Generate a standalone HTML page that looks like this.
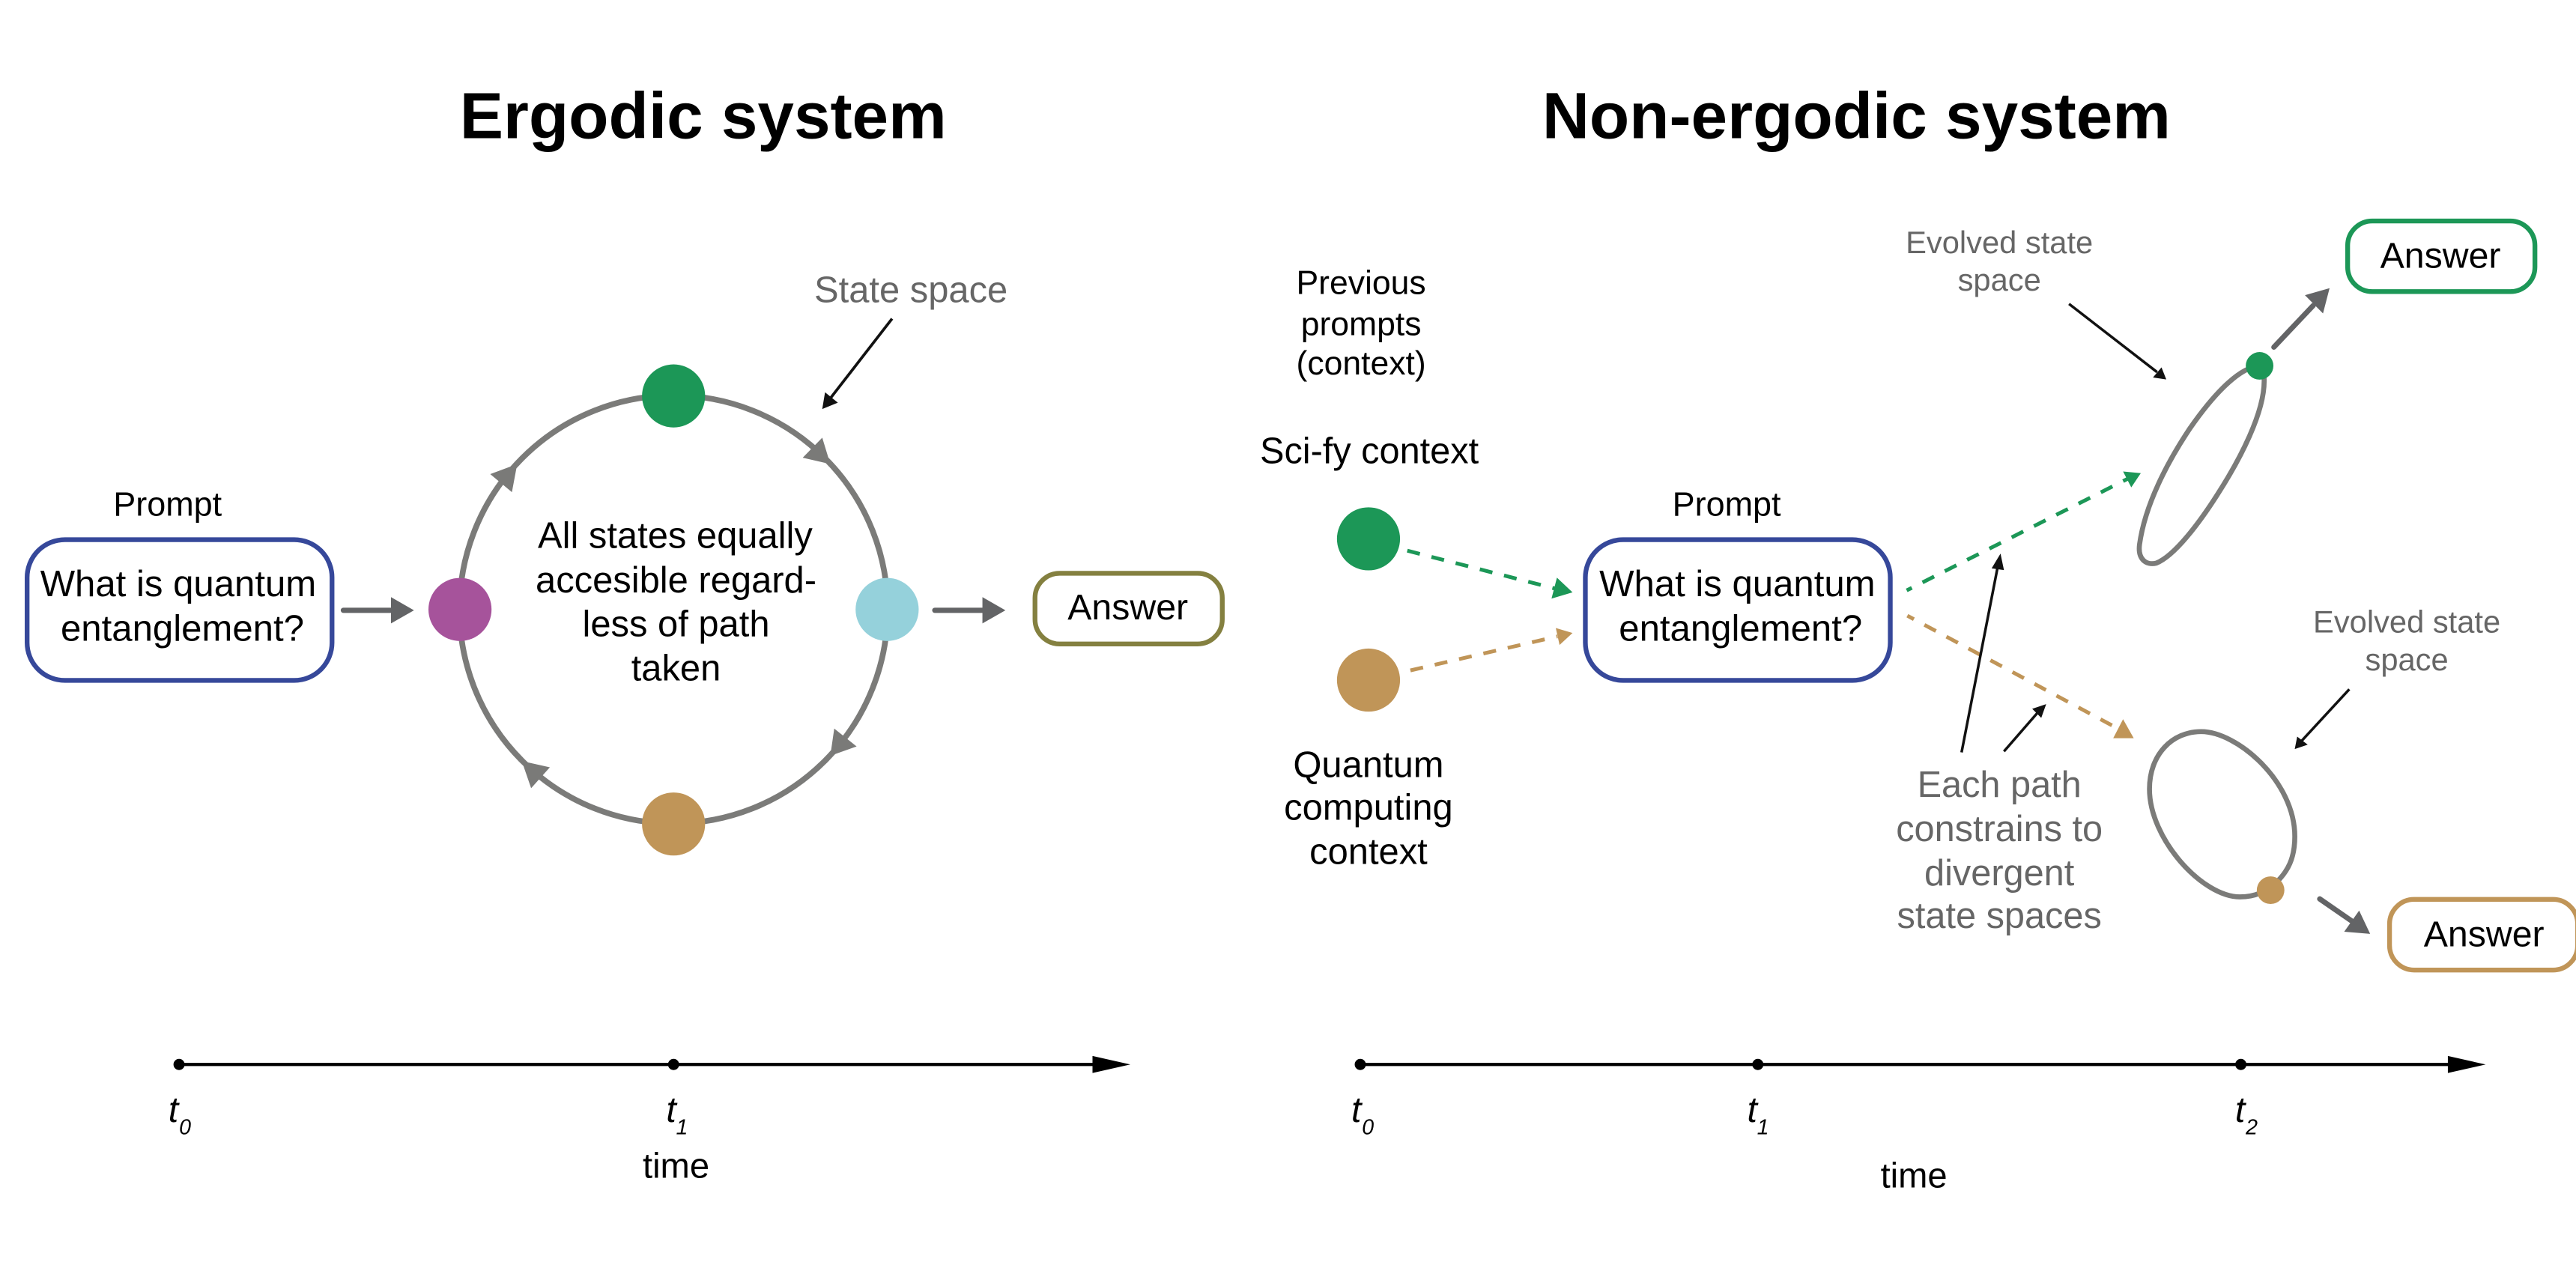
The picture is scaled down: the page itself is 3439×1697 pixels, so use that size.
<!DOCTYPE html>
<html><head><meta charset="utf-8"><style>
html,body{margin:0;padding:0;background:#fff}
svg{display:block}
text{font-family:"Liberation Sans",sans-serif;fill:#000;text-anchor:middle}
.g{fill:#666}
.i{font-style:italic;text-anchor:start}
.b{fill:#fff;stroke-width:2.9}
</style></head><body>
<svg width="3439" height="1697" viewBox="0 0 1568 773.7" xmlns="http://www.w3.org/2000/svg">
<rect width="1568" height="774" fill="#fff"/>
<text x="428" y="84" font-size="39.8" font-weight="700">Ergodic system</text>
<text x="1130" y="84" font-size="39.8" font-weight="700">Non-ergodic system</text>

<!-- left cycle -->
<circle cx="410" cy="371" r="130.3" fill="none" stroke="#7b7b79" stroke-width="3.5"/>
<g fill="#7a7a78">
<polygon points="505.4,282.5 500.5,266.4 488.6,278.6"/>
<polygon points="505.4,460.1 507.8,443.5 521.4,454.4"/>
<polygon points="317.6,463.3 334.7,467.1 323.3,479.8"/>
<polygon points="314.8,282.5 298.4,288.6 311.6,299.6"/>
</g>
<circle cx="410" cy="241" r="19.2" fill="#1c9757"/>
<circle cx="410" cy="501.6" r="19.2" fill="#c09558"/>
<circle cx="280" cy="371" r="19.2" fill="#a6539b"/>
<circle cx="540" cy="371" r="19.2" fill="#95d1db"/>
<text x="554.5" y="184" font-size="22.3" class="g">State space</text>
<line x1="543" y1="194" x2="505" y2="243" stroke="#111" stroke-width="1.7"/>
<polygon points="500.5,249 502.2,238.8 510,245.1" fill="#111"/>
<text x="102" y="314" font-size="20.5">Prompt</text>
<rect x="16.5" y="328.5" width="185.6" height="85.7" rx="23" class="b" stroke="#36489a"/>
<text x="108.5" y="363" font-size="22.4">What is quantum</text>
<text x="111" y="390" font-size="22.4">entanglement?</text>
<text x="411" y="333.6" font-size="22.3">All states equally</text>
<text x="411.5" y="360.6" font-size="22.3">accesible regard-</text>
<text x="411.5" y="387.2" font-size="22.3">less of path</text>
<text x="411.5" y="414.2" font-size="22.3">taken</text>
<rect x="630" y="349" width="114" height="43" rx="15" class="b" stroke="#848040"/>
<text x="686.5" y="377" font-size="22">Answer</text>
<g stroke="#636466" stroke-width="3.2" stroke-linecap="round"><line x1="209" y1="371.5" x2="240" y2="371.5"/><line x1="569" y1="371.5" x2="600" y2="371.5"/></g>
<g fill="#636466"><polygon points="252,371.5 238,363.5 238,379.5"/><polygon points="612,371.5 598,363.5 598,379.5"/></g>

<!-- left timeline -->
<line x1="109" y1="648" x2="670" y2="648" stroke="#000" stroke-width="1.9"/>
<polygon points="688,648 665,642.8 665,653.2" fill="#000"/>
<circle cx="109" cy="648" r="3.4"/><circle cx="410" cy="648" r="3.4"/>
<text x="102.5" y="683" font-size="22" class="i">t</text><text x="109" y="690.5" font-size="13" class="i">0</text>
<text x="405.5" y="683" font-size="22" class="i">t</text><text x="411.5" y="690.5" font-size="13" class="i">1</text>
<text x="411.5" y="717" font-size="21.5">time</text>

<!-- right context -->
<text x="828.5" y="179" font-size="20.3">Previous</text>
<text x="828.5" y="204" font-size="20.3">prompts</text>
<text x="828.5" y="228" font-size="20.3">(context)</text>
<text x="833.5" y="282" font-size="22.2">Sci-fy context</text>
<circle cx="833" cy="328" r="19.2" fill="#1c9757"/>
<circle cx="833" cy="414" r="19.2" fill="#c09558"/>
<text x="833" y="473" font-size="22.3">Quantum</text>
<text x="833" y="499" font-size="22.3">computing</text>
<text x="833" y="526" font-size="22.3">context</text>
<line x1="856.6" y1="335.2" x2="947" y2="358.4" stroke="#1c9757" stroke-width="2.3" stroke-dasharray="7.9 7.3"/>
<polygon points="957.2,360.6 947.7,351.6 944.4,364.4" fill="#1c9757"/>
<line x1="858.5" y1="408.1" x2="948" y2="387.4" stroke="#c09558" stroke-width="2.3" stroke-dasharray="7.9 7.3"/>
<polygon points="957.2,385.3 947,382.3 949.3,392.6" fill="#c09558"/>

<text x="1051" y="314" font-size="20.5">Prompt</text>
<rect x="965" y="328.5" width="185.6" height="85.7" rx="23" class="b" stroke="#36489a"/>
<text x="1057.5" y="363" font-size="22.4">What is quantum</text>
<text x="1059.5" y="390" font-size="22.4">entanglement?</text>

<!-- dashed paths -->
<line x1="1160.6" y1="359.4" x2="1295" y2="291.5" stroke="#1c9757" stroke-width="2.3" stroke-dasharray="7.9 7.3" stroke-dashoffset="4.4"/>
<polygon points="1303.1,288 1292.3,287 1297.3,296.7" fill="#1c9757"/>
<line x1="1161" y1="374.8" x2="1291" y2="444.5" stroke="#c09558" stroke-width="2.3" stroke-dasharray="7.9 7.3" stroke-dashoffset="3.4"/>
<polygon points="1298.8,449.4 1292.3,437.8 1286.3,449.4" fill="#c09558"/>

<!-- state spaces -->
<g transform="translate(1276.8,173.3) scale(0.152)">
<path d="M650 325 C560 330 450 460 370 575 C280 710 190 880 168 1040 C160 1100 195 1125 235 1115 C310 1085 410 950 480 840 C570 700 670 510 667 380 C667 350 660 325 650 325 Z" fill="none" stroke="#7b7b79" stroke-width="20"/>
</g>
<g transform="translate(1295,433.2) scale(0.152)">
<path d="M295 80 C440 80 670 280 670 500 C670 590 640 640 600 680 C560 720 510 742 450 742 C300 742 88 510 88 310 C88 170 180 80 295 80 Z" fill="none" stroke="#7b7b79" stroke-width="20"/>
</g>
<circle cx="1375.4" cy="222.7" r="8.4" fill="#1c9757"/>
<circle cx="1382.1" cy="541.9" r="8.4" fill="#c09558"/>

<!-- grey out arrows -->
<line x1="1384.1" y1="211.3" x2="1408" y2="186" stroke="#636466" stroke-width="3.2" stroke-linecap="round"/>
<polygon points="1418,175.4 1403,179.7 1414,190.8" fill="#636466"/>
<line x1="1412" y1="547.2" x2="1432" y2="561" stroke="#636466" stroke-width="3.2" stroke-linecap="round"/>
<polygon points="1442.7,568.5 1436,554.3 1426.9,567.2" fill="#636466"/>

<!-- black annotation arrows -->
<g stroke="#111" stroke-width="1.6">
<line x1="1194" y1="458" x2="1216" y2="345"/>
<line x1="1219.8" y1="457.4" x2="1241" y2="433"/>
<line x1="1259.4" y1="185" x2="1313" y2="226.5"/>
<line x1="1430" y1="419.6" x2="1401" y2="451"/>
</g>
<g fill="#111">
<polygon points="1217.7,337 1212.3,346 1219.8,347"/>
<polygon points="1245.5,428.6 1237,431.5 1242.5,437"/>
<polygon points="1318.6,231 1315.7,223.6 1310.5,229.8"/>
<polygon points="1396.8,456 1398.3,448.4 1404.7,453.3"/>
</g>

<text x="1217" y="154" font-size="19" class="g">Evolved state</text>
<text x="1217" y="177" font-size="19" class="g">space</text>
<text x="1465" y="385" font-size="19" class="g">Evolved state</text>
<text x="1465" y="408" font-size="19" class="g">space</text>
<text x="1217" y="485" font-size="22.2" class="g">Each path</text>
<text x="1217" y="512" font-size="22.2" class="g">constrains to</text>
<text x="1217" y="539" font-size="22.2" class="g">divergent</text>
<text x="1217" y="565" font-size="22.2" class="g">state spaces</text>

<rect x="1429" y="134.5" width="114" height="43" rx="15" class="b" stroke="#1c9757"/>
<text x="1485.5" y="163" font-size="22">Answer</text>
<rect x="1454.5" y="547.5" width="114.5" height="43" rx="15" class="b" stroke="#c09558"/>
<text x="1512" y="576" font-size="22">Answer</text>

<!-- right timeline -->
<line x1="828" y1="648" x2="1495" y2="648" stroke="#000" stroke-width="1.9"/>
<polygon points="1513,648 1490,642.8 1490,653.2" fill="#000"/>
<circle cx="828" cy="648" r="3.4"/><circle cx="1070" cy="648" r="3.4"/><circle cx="1364" cy="648" r="3.4"/>
<text x="822.5" y="683" font-size="22" class="i">t</text><text x="829" y="690.5" font-size="13" class="i">0</text>
<text x="1063.5" y="683" font-size="22" class="i">t</text><text x="1069.5" y="690.5" font-size="13" class="i">1</text>
<text x="1360.5" y="683" font-size="22" class="i">t</text><text x="1367" y="690.5" font-size="13" class="i">2</text>
<text x="1165" y="723" font-size="21.5">time</text>
</svg>
</body></html>
